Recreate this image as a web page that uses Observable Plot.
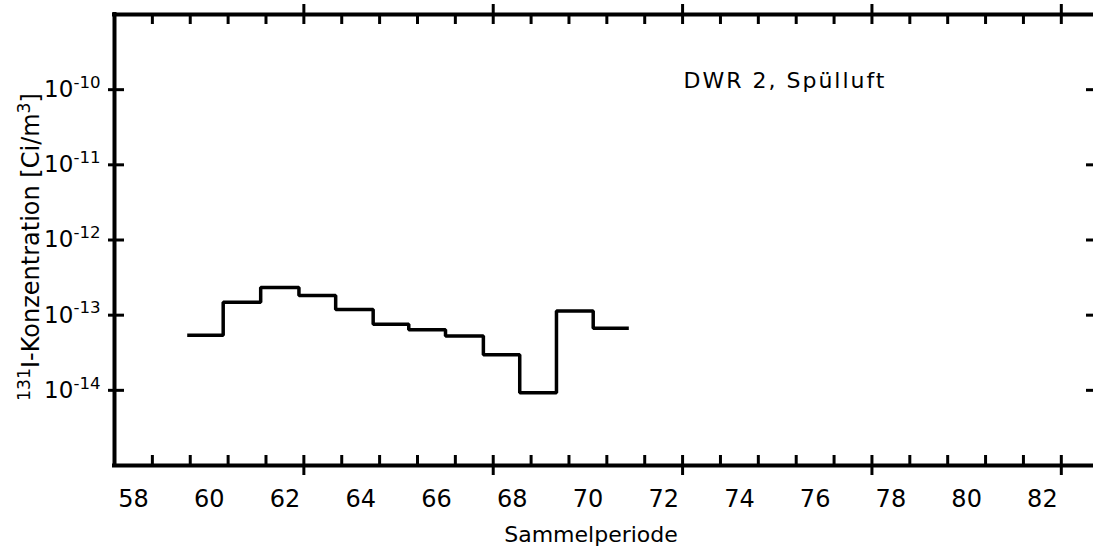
<!DOCTYPE html>
<html>
<head>
<meta charset="utf-8">
<script src="https://cdn.jsdelivr.net/npm/d3@7"></script>
<script src="https://cdn.jsdelivr.net/npm/@observablehq/plot@0.6"></script>
<style>
  html, body { margin: 0; padding: 0; background: #fff; overflow: hidden; }
  #chart svg { display: block; }
</style>
</head>
<body>
<div id="chart"></div>
<script>
// ---- data ----
const periods = [60, 61, 62, 63, 64, 65, 66, 67, 68, 69, 70, 71];
// left/right edges of each collection period as drawn in the reference
const periodEdges = [59.42, 60.37, 61.36, 62.37, 63.34, 64.33, 65.27, 66.24, 67.24, 68.20, 69.17, 70.14, 71.08];
const concentration = [5.4e-14, 1.49e-13, 2.33e-13, 1.82e-13, 1.19e-13, 7.6e-14, 6.4e-14, 5.3e-14, 2.97e-14, 9.3e-15, 1.14e-13, 6.7e-14];

const xTickLabels = [58, 60, 62, 64, 66, 68, 70, 72, 74, 76, 78, 80, 82];
const xMinorTicks = [58.5, 59.5, 60.5, 61.5, 63.5, 64.5, 65.5, 66.5, 68.5, 69.5, 70.5, 71.5, 73.5, 74.5, 75.5, 76.5, 78.5, 79.5, 80.5, 81.5];
const xMajorTicks = [62.5, 67.5, 72.5, 77.5, 82.5];
const yTickValues = [1e-14, 1e-13, 1e-12, 1e-11, 1e-10];
const xDomain = [57.5, 83.35];
const yDomain = [1e-15, 1e-9];

const xTitle = "Sammelperiode";
const yTitle = "¹³¹I-Konzentration [Ci/m³]";
const noteText = "DWR 2, Spülluft";

// ---- build step series ----
const steps = periods.map((p, i) => ({x: periodEdges[i], y: concentration[i]}));
steps.push({x: periodEdges[periodEdges.length - 1], y: concentration[concentration.length - 1]});

const supDigits = {"-": "⁻", "0": "⁰", "1": "¹", "2": "²", "3": "³", "4": "⁴", "5": "⁵", "6": "⁶", "7": "⁷", "8": "⁸", "9": "⁹"};
const fmtPow = d => "10" + String(Math.round(Math.log10(d))).split("").map(c => supDigits[c]).join("");

const W = 1093, H = 552;
const mL = 114, mT = 14, mB = 87, mR = 0;
const frameH = H - mT - mB;   // 451
const frameW = W - mL - mR;   // 979

const plot = Plot.plot({
  width: W,
  height: H,
  marginLeft: mL,
  marginRight: mR,
  marginTop: mT,
  marginBottom: mB,
  style: {fontFamily: "'DejaVu Sans', sans-serif", fontSize: "22px", background: "#fff", color: "#000", overflow: "visible"},
  x: {domain: xDomain},
  y: {type: "log", domain: yDomain},
  marks: [
    // tick labels
    Plot.axisX(xTickLabels, {anchor: "bottom", tickSize: 0, tickPadding: 24, fontSize: 24, label: null, tickFormat: d => String(d)}),
    Plot.axisY(yTickValues, {anchor: "left", tickSize: 0, tickPadding: 14, fontSize: 23, label: null, tickFormat: fmtPow}),
    // bottom ticks
    Plot.ruleX(xMinorTicks, {x: d => d, insetTop: frameH - 10, strokeWidth: 3}),
    Plot.ruleX(xMajorTicks, {x: d => d, insetTop: frameH - 10, insetBottom: -10, strokeWidth: 3}),
    // top ticks
    Plot.ruleX(xMinorTicks, {x: d => d, insetBottom: frameH - 10, strokeWidth: 3}),
    Plot.ruleX(xMajorTicks, {x: d => d, insetBottom: frameH - 10, insetTop: -10, strokeWidth: 3}),
    // left ticks (crossing) and right ticks (inward)
    Plot.ruleY(yTickValues, {y: d => d, insetLeft: -6, insetRight: frameW - 10, strokeWidth: 3}),
    Plot.ruleY(yTickValues, {y: d => d, insetLeft: frameW - 7, strokeWidth: 3}),
    // frame
    Plot.ruleY([yDomain[0]], {strokeWidth: 4, strokeLinecap: "square"}),
    Plot.ruleY([yDomain[1]], {strokeWidth: 4, strokeLinecap: "square"}),
    Plot.ruleX([xDomain[0]], {strokeWidth: 4, strokeLinecap: "square"}),
    // data
    Plot.line(steps, {x: "x", y: "y", curve: "step-after", stroke: "#000", strokeWidth: 3.5, strokeLinejoin: "miter", strokeLinecap: "butt"}),
    // titles & note
    Plot.text([xTitle], {text: d => d, frameAnchor: "bottom", lineAnchor: "bottom", dy: 76, dx: -13, fontSize: 22}),
    Plot.text([yTitle], {text: d => d, frameAnchor: "left", textAnchor: "middle", rotate: -90, lineAnchor: "middle", dx: -83, dy: 7, fontSize: 24}),
    Plot.text([noteText], {text: d => d, frameAnchor: "top-left", textAnchor: "start", lineAnchor: "bottom", dx: 569, dy: 73, fontSize: 22})
  ]
});

document.getElementById("chart").appendChild(plot);

// widen the letter spacing of the note, as in the reference lettering
plot.querySelectorAll("text").forEach(el => {
  if (el.textContent === noteText) el.style.letterSpacing = "2px";
});

// render Unicode superscript runs as raised tspans (keeps real text)
const supBack = {"⁰":"0","¹":"1","²":"2","³":"3","⁴":"4","⁵":"5","⁶":"6","⁷":"7","⁸":"8","⁹":"9","⁻":"-"};
plot.querySelectorAll("text").forEach(el => {
  if (el.children.length) return;
  const s = el.textContent;
  if (![...s].some(c => c in supBack)) return;
  const fs = parseFloat(getComputedStyle(el).fontSize) || 22;
  const runs = [];
  for (const c of s) {
    const sup = c in supBack;
    const ch = sup ? supBack[c] : c;
    if (runs.length && runs[runs.length - 1].sup === sup) runs[runs.length - 1].t += ch;
    else runs.push({sup, t: ch});
  }
  const shift = 0.4 * fs;
  el.textContent = "";
  let raised = false;
  for (const r of runs) {
    const ts = document.createElementNS("http://www.w3.org/2000/svg", "tspan");
    ts.textContent = r.t;
    if (r.sup) { ts.setAttribute("font-size", (0.72 * fs).toFixed(1)); ts.setAttribute("dy", (-shift).toFixed(1)); raised = true; }
    else if (raised) { ts.setAttribute("dy", shift.toFixed(1)); raised = false; }
    el.appendChild(ts);
  }
});
</script>
</body>
</html>
